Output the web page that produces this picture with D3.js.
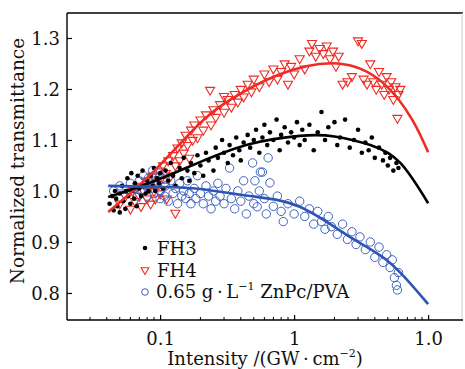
<!DOCTYPE html>
<html>
<head>
<meta charset="utf-8">
<script src="https://cdn.jsdelivr.net/npm/d3@7"></script>
<style>
  body { margin: 0; background: #fff; }
  svg text { fill: #111; }
</style>
</head>
<body>
<svg id="chart" width="465" height="369"></svg>
<script>
// scatter data [intensity GW/cm2, normalized transmittance]
const fh3Points = [
  [0.042,0.975],[0.044,0.99],[0.045,0.962],[0.046,1.0],[0.047,0.985],[0.048,0.97],[0.05,0.995],[0.05,0.958],
  [0.052,1.01],[0.053,0.98],[0.055,0.965],[0.056,1.0],[0.057,1.025],[0.058,0.99],[0.06,0.975],[0.061,1.035],
  [0.062,1.0],[0.064,0.985],[0.065,1.015],[0.067,0.97],[0.068,1.03],[0.07,1.005],[0.072,0.99],[0.074,1.04],
  [0.075,1.01],[0.078,0.995],[0.08,1.02],[0.082,1.0],[0.085,1.03],[0.088,1.01],[0.09,1.045],[0.092,1.0],
  [0.095,1.025],[0.098,1.015],[0.1,1.035],[0.105,1.005],[0.11,1.04],[0.115,1.02],[0.12,1.055],[0.125,1.03],
  [0.13,1.01],[0.14,1.045],[0.145,1.025],[0.15,1.065],[0.16,1.04],[0.165,1.02],[0.17,1.055],[0.18,1.035],
  [0.19,1.07],[0.2,1.05],[0.21,1.03],[0.22,1.075],[0.23,1.06],[0.25,1.04],[0.26,1.085],[0.27,1.065],
  [0.29,1.1],[0.3,1.075],[0.32,1.055],[0.33,1.09],[0.35,1.07],[0.37,1.105],[0.39,1.08],[0.4,1.06],
  [0.42,1.095],[0.45,1.11],[0.47,1.085],[0.5,1.1],[0.52,1.12],[0.55,1.075],[0.58,1.105],[0.6,1.13],
  [0.63,1.09],[0.66,1.115],[0.7,1.1],[0.74,1.14],[0.78,1.08],[0.8,1.11],[0.85,1.125],[0.9,1.095],
  [0.95,1.115],[1.0,1.105],[1.05,1.135],[1.1,1.09],[1.15,1.12],[1.2,1.1],[1.3,1.13],[1.4,1.08],
  [1.5,1.115],[1.6,1.155],[1.7,1.1],[1.8,1.125],[2.0,1.135],[2.1,1.09],[2.2,1.105],[2.4,1.14],
  [2.6,1.085],[2.8,1.1],[3.0,1.12],[3.2,1.075],[3.4,1.095],[3.6,1.08],[3.8,1.105],[4.0,1.065],
  [4.3,1.085],[4.6,1.06],[4.8,1.075],[5.0,1.05],[5.2,1.065],[5.5,1.04],[5.8,1.055],[6.0,1.045]
];
const fh4Points = [
  [0.05,0.975],[0.055,0.99],[0.06,0.965],[0.062,1.0],[0.065,0.98],[0.068,1.01],[0.07,0.99],[0.072,0.97],
  [0.075,1.0],[0.078,1.02],[0.08,0.985],[0.082,1.005],[0.085,0.975],[0.088,1.03],[0.09,1.0],[0.092,0.985],
  [0.095,1.015],[0.098,1.04],[0.1,0.995],[0.1,1.02],[0.105,1.05],[0.108,1.01],[0.11,1.035],[0.112,0.985],
  [0.115,1.06],[0.12,1.03],[0.125,1.07],[0.13,0.957],[0.13,1.05],[0.135,1.085],[0.14,1.06],[0.145,1.095],
  [0.15,1.075],[0.155,1.11],[0.16,1.09],[0.165,1.065],[0.17,1.12],[0.175,1.1],[0.18,1.13],[0.19,1.105],
  [0.2,1.14],[0.21,1.12],[0.22,1.15],[0.236,1.198],[0.24,1.13],[0.25,1.16],[0.26,1.145],[0.28,1.17],
  [0.3,1.186],[0.3,1.155],[0.32,1.18],[0.34,1.165],[0.36,1.19],[0.38,1.175],[0.4,1.2],[0.42,1.185],
  [0.45,1.21],[0.48,1.195],[0.5,1.22],[0.55,1.205],[0.6,1.23],[0.65,1.215],[0.7,1.24],[0.75,1.22],
  [0.8,1.235],[0.85,1.25],[0.9,1.21],[0.95,1.245],[1.0,1.23],[1.1,1.26],[1.2,1.24],[1.3,1.275],
  [1.36,1.29],[1.45,1.265],[1.55,1.28],[1.65,1.27],[1.75,1.285],[1.85,1.26],[1.95,1.275],[2.05,1.245],
  [2.15,1.265],[2.3,1.21],[2.5,1.215],[2.7,1.225],[3.0,1.295],[3.2,1.29],[3.3,1.22],[3.5,1.21],
  [3.7,1.25],[3.9,1.215],[4.1,1.2],[4.3,1.235],[4.5,1.21],[4.7,1.19],[4.9,1.225],[5.1,1.2],
  [5.3,1.215],[5.5,1.18],[5.7,1.205],[5.9,1.143],[6.0,1.19],[6.2,1.2]
];
const znpcPoints = [
  [0.045,1.0],[0.05,1.01],[0.055,0.995],[0.06,1.015],[0.065,1.005],[0.068,0.99],[0.07,1.02],[0.072,1.0],
  [0.075,1.03],[0.078,1.01],[0.08,0.99],[0.082,1.025],[0.085,1.005],[0.088,1.04],[0.09,0.995],[0.092,1.02],
  [0.095,1.01],[0.098,1.035],[0.1,0.985],[0.1,1.0],[0.105,1.025],[0.108,0.99],[0.11,1.01],[0.115,0.98],
  [0.12,1.02],[0.125,0.995],[0.13,1.005],[0.135,0.975],[0.14,1.015],[0.145,0.99],[0.15,1.0],[0.155,0.985],
  [0.16,1.02],[0.165,0.995],[0.17,0.975],[0.18,1.005],[0.185,0.985],[0.19,1.03],[0.2,0.995],[0.21,0.975],
  [0.22,1.01],[0.23,0.99],[0.24,0.965],[0.25,1.0],[0.26,0.98],[0.27,1.015],[0.28,0.99],[0.3,0.975],
  [0.31,1.005],[0.33,1.045],[0.34,0.985],[0.36,0.965],[0.38,1.0],[0.4,0.98],[0.42,1.02],[0.44,0.955],
  [0.46,0.99],[0.49,1.055],[0.5,0.975],[0.51,1.02],[0.53,0.969],[0.55,1.0],[0.56,1.037],[0.58,1.037],
  [0.6,0.985],[0.62,0.955],[0.64,1.065],[0.66,1.016],[0.7,0.97],[0.75,0.99],[0.8,0.96],[0.83,0.94],
  [0.9,0.975],[1.0,0.955],[1.1,0.98],[1.2,0.95],[1.3,0.965],[1.4,0.935],[1.5,0.96],[1.6,0.94],
  [1.7,0.925],[1.8,0.95],[1.9,0.93],[2.1,0.915],[2.3,0.935],[2.5,0.905],[2.7,0.92],[2.9,0.895],
  [3.1,0.91],[3.4,0.885],[3.7,0.9],[4.0,0.87],[4.3,0.89],[4.6,0.86],[4.9,0.875],[5.2,0.85],
  [5.4,0.865],[5.6,0.83],[5.8,0.815],[6.0,0.84],[5.9,0.806]
];

// fitted curves
const fh3Fit = [[0.041,0.988],[0.084,1.016],[0.2,1.057],[0.47,1.092],[1.1,1.108],[2.0,1.107],[3.7,1.09],[6.2,1.055],[10,0.976]];
const fh4Fit = [[0.041,0.959],[0.084,1.031],[0.19,1.128],[0.33,1.178],[0.75,1.227],[2.1,1.25],[4.6,1.212],[7.6,1.14],[10,1.076]];
const znpcFit = [[0.041,1.01],[0.1,1.008],[0.2,1.004],[0.47,0.99],[1.1,0.969],[2.6,0.91],[5.2,0.859],[10,0.778]];

const yTicks = [0.8, 0.9, 1.0, 1.1, 1.2, 1.3];
const xMajorTicks = [0.1, 1, 10];
const xTickLabels = ["0.1", "1", "1.0"];
const legendLabels = ["FH3", "FH4", "0.65 g\u2009\u00b7\u2009L"];

const serif = "DejaVu Serif";
const svg = d3.select("#chart");
const mLeft = 67, mRight = 463, mTop = 13, mBottom = 320;

const x = d3.scaleLog().domain([0.0202, 18.2]).range([mLeft, mRight]);
const y = d3.scaleLinear().domain([0.747, 1.349]).range([mBottom, mTop]);

const black = "#000", red = "#ee2b24", blue = "#2d56b4", blueMark = "#3f63c4";

// frame
svg.append("line").attr("x1", mLeft).attr("x2", mRight).attr("y1", mTop).attr("y2", mTop)
  .attr("stroke", "#000").attr("stroke-width", 1.6);
svg.append("line").attr("x1", mRight - 1).attr("x2", mRight - 1).attr("y1", mTop).attr("y2", mBottom)
  .attr("stroke", "#ccc").attr("stroke-width", 1);

// axes
const xAxis = svg.append("g").attr("transform", `translate(0,${mBottom})`)
  .call(d3.axisBottom(x).tickValues(xMajorTicks).tickSize(-5).tickFormat((d, i) => xTickLabels[i]));
const minor = [];
[0.01, 0.1, 1].forEach(dec => { for (let k = 2; k <= 9; k++) minor.push(dec * k); });
xAxis.selectAll(".minor").data(minor.filter(v => x(v) > mLeft + 1)).enter().append("line")
  .attr("x1", d => x(d)).attr("x2", d => x(d)).attr("y1", 0).attr("y2", -3)
  .attr("stroke", "#000").attr("stroke-width", 1);

const yAxis = svg.append("g").attr("transform", `translate(${mLeft},0)`)
  .call(d3.axisLeft(y).tickValues(yTicks).tickSize(-5).tickFormat(d3.format(".1f")));

[xAxis, yAxis].forEach(g => {
  g.attr("font-family", serif);
  g.select(".domain").attr("stroke", "#000").attr("stroke-width", 1.4);
  g.selectAll(".tick line").attr("stroke", "#000").attr("stroke-width", 1.2);
  g.selectAll(".tick text").attr("font-size", 18).attr("fill", "#111");
});
xAxis.selectAll(".tick text").attr("dy", 0).attr("y", 25);
yAxis.selectAll(".tick text").attr("x", -7).attr("dy", "0.36em");
xAxis.select(".domain").attr("d", `M${mLeft},0H${mRight}`);
yAxis.select(".domain").attr("d", `M0,${mTop}V${mBottom}`);

// axis titles
const xt = svg.append("text").attr("x", 265).attr("y", 365).attr("text-anchor", "middle")
  .attr("font-family", serif).attr("font-size", 18);
xt.append("tspan").text("Intensity /(GW\u2009\u00b7\u2009cm");
xt.append("tspan").attr("font-size", 11).attr("dy", -8).text("\u22122");
xt.append("tspan").attr("dy", 8).text(")");
svg.append("text").attr("transform", "translate(24,161) rotate(-90)").attr("text-anchor", "middle")
  .attr("font-family", serif).attr("font-size", 18.5).text("Normalized transmittance");

// points
const plot = svg.append("g");
const tri = d3.symbol().type(d3.symbolTriangle).size(36);
plot.selectAll(".fh4").data(fh4Points).enter().append("path")
  .attr("d", tri).attr("transform", d => `translate(${x(d[0])},${y(d[1])}) rotate(180)`)
  .attr("fill", "none").attr("stroke", red).attr("stroke-width", 1.1);
plot.selectAll(".zn").data(znpcPoints).enter().append("circle")
  .attr("cx", d => x(d[0])).attr("cy", d => y(d[1])).attr("r", 4.2)
  .attr("fill", "none").attr("stroke", blueMark).attr("stroke-width", 1);
plot.selectAll(".fh3").data(fh3Points).enter().append("circle")
  .attr("cx", d => x(d[0])).attr("cy", d => y(d[1])).attr("r", 2.3).attr("fill", black);

// fits
const line = d3.line().x(d => x(d[0])).y(d => y(d[1])).curve(d3.curveNatural);
[[fh4Fit, red], [fh3Fit, black], [znpcFit, blue]].forEach(([data, c]) => {
  svg.append("path").attr("d", line(data)).attr("fill", "none").attr("stroke", c).attr("stroke-width", 2.6);
});

// legend
const lg = svg.append("g").attr("font-family", serif).attr("font-size", 18);
lg.append("circle").attr("cx", 145).attr("cy", 248).attr("r", 2.3).attr("fill", black);
lg.append("path").attr("d", d3.symbol().type(d3.symbolTriangle).size(26)).attr("transform", "translate(145,270) rotate(180)")
  .attr("fill", "none").attr("stroke", red).attr("stroke-width", 1.1);
lg.append("circle").attr("cx", 145).attr("cy", 292).attr("r", 3.3)
  .attr("fill", "none").attr("stroke", blueMark).attr("stroke-width", 1);
lg.append("text").attr("x", 157).attr("y", 255).text(legendLabels[0]);
lg.append("text").attr("x", 157).attr("y", 277).text(legendLabels[1]);
const l3 = lg.append("text").attr("x", 156).attr("y", 298);
l3.append("tspan").text(legendLabels[2]);
l3.append("tspan").attr("font-size", 11).attr("dy", -8).text("\u22121");
l3.append("tspan").attr("dy", 8).text(" ZnPc/PVA");
</script>
</body>
</html>
